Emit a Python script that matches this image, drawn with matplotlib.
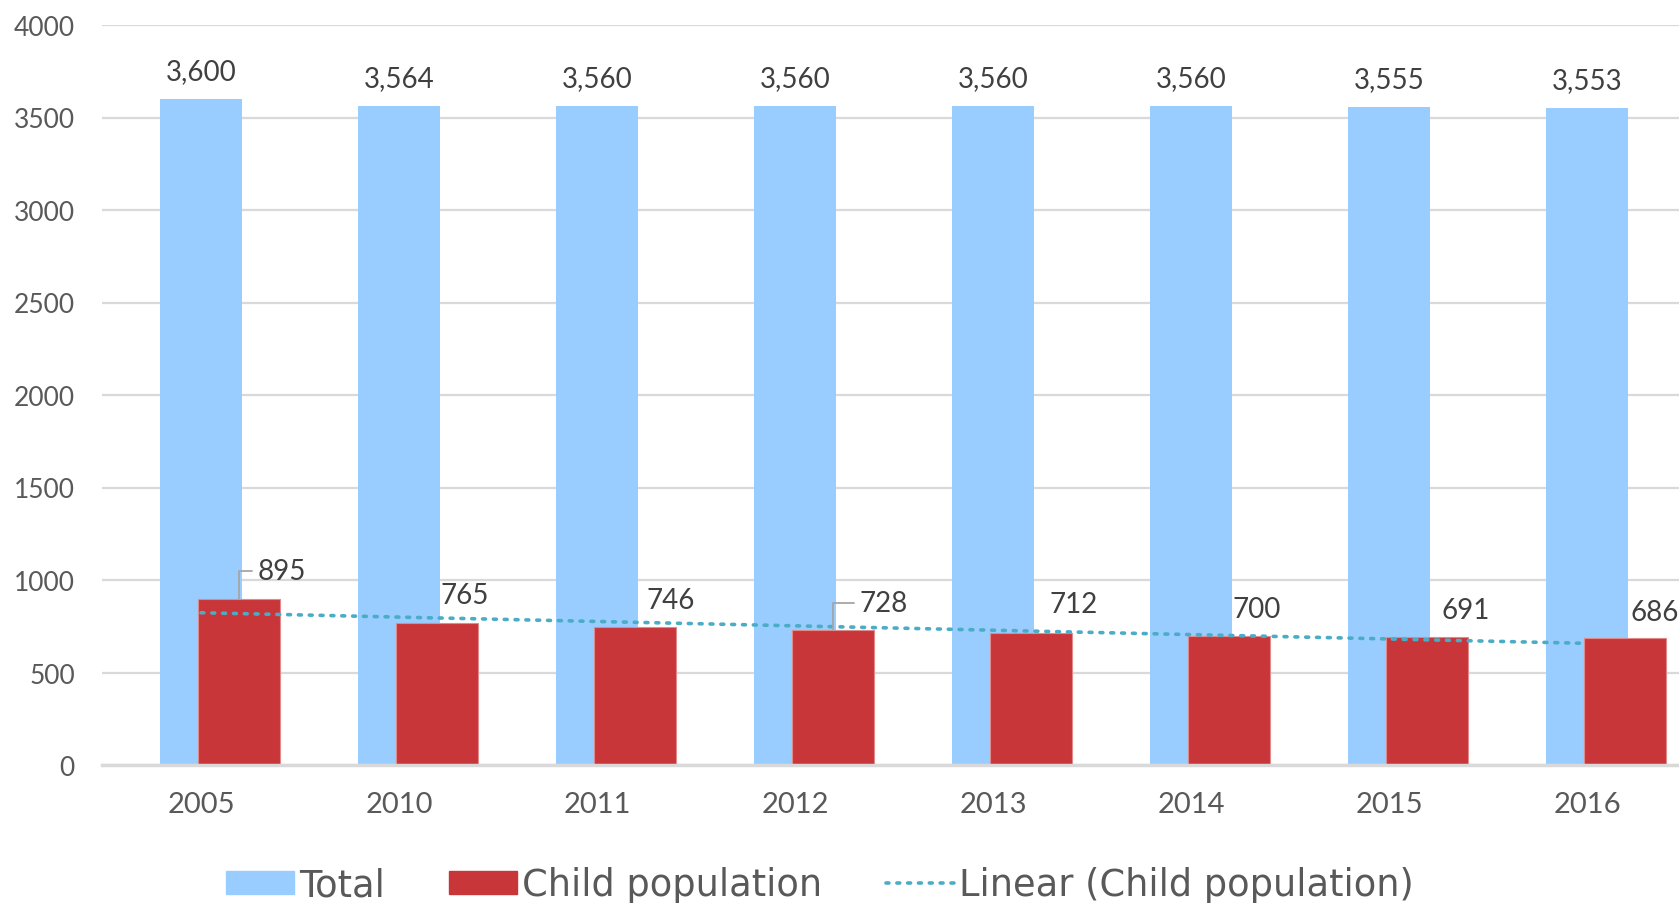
#!/usr/bin/python3
# coding: utf-8

import matplotlib
matplotlib.use('Agg')
import matplotlib.pyplot as plt
from matplotlib.lines import Line2D
from matplotlib.patches import Patch
import numpy as np

# data
years = ['2005', '2010', '2011', '2012', '2013', '2014', '2015', '2016']
total = [3600, 3564, 3560, 3560, 3560, 3560, 3555, 3553]
child = [895, 765, 746, 728, 712, 700, 691, 686]

# label offsets of the child values (pixels right, pixels up) and which get a leader line
child_offsets = [(43, 28), (28, 28), (36, 27), (51, 27), (43, 29), (28, 27), (39, 27), (30, 26)]
child_leader = [True, False, False, True, False, False, False, False]

# colours
c_total = '#99CCFF'
c_child = '#C8363A'
c_trend = '#4BACC6'
c_text = '#404040'
c_tick = '#595959'
c_grid = '#D9D9D9'

plt.rcParams['font.family'] = ['Lato', 'DejaVu Sans']

W, H, DPI = 1679, 904, 100
fig = plt.figure(figsize=(W / DPI, H / DPI), dpi=DPI)
ax = fig.add_axes([102 / W, 1 - 766 / H, 1 - 102 / W, (766 - 26) / H])

x = np.arange(len(years))
bw = 0.414
shift = 0.19
px = 1 / 198.0  # one pixel in category units

ax.bar(x, total, width=bw, color=c_total, zorder=2)
ax.bar(x + shift, child, width=bw, color=c_child, edgecolor='#E08A8C', linewidth=0.8, zorder=3)

# linear trend of child population
coef = np.polyfit(x + 1, child, 1)
trend = np.polyval(coef, x + 1)
ax.plot(x, trend, color=c_trend, linestyle=(0, (0.8, 2.2)), linewidth=2.6,
        dash_capstyle='round', zorder=4)

# value labels
for xi, v in zip(x, total):
    ax.annotate(f'{v:,}', xy=(xi, v), xytext=(0, 28 * 72 / DPI), textcoords='offset points',
                ha='center', va='center', fontsize=20, color=c_text, zorder=5)

for xi, v, (dx, dy), lead in zip(x, child, child_offsets, child_leader):
    kw = {}
    if lead:
        kw['arrowprops'] = dict(arrowstyle='-', color='#A6A6A6', lw=1.3,
                                shrinkA=2, shrinkB=0, relpos=(0, 0.5),
                                connectionstyle='angle,angleA=0,angleB=90,rad=0')
    ax.annotate(f'{v:,}', xy=(xi + shift, v), xytext=(dx * 72 / DPI, dy * 72 / DPI),
                textcoords='offset points', ha='center', va='center',
                fontsize=20, color=c_text, zorder=5, **kw)

ax.set_xlim(-0.5, -0.5 + (W - 102) * px)
ax.set_ylim(0, 4000)
ax.set_yticks(np.arange(0, 4001, 500))
ax.set_xticks(x)
ax.set_xticklabels(years)

ax.yaxis.grid(True, color=c_grid, linewidth=1.6, zorder=0)
ax.set_axisbelow(True)
for s in ['top', 'right', 'left']:
    ax.spines[s].set_visible(False)
ax.spines['bottom'].set_color(c_grid)
ax.spines['bottom'].set_linewidth(2.5)
ax.spines['bottom'].set_zorder(6)
ax.tick_params(axis='y', length=0, pad=27 * 72 / DPI, labelsize=19, labelcolor=c_tick)
ax.tick_params(axis='x', length=0, pad=26 * 72 / DPI, labelsize=21, labelcolor=c_tick)

handles = [Patch(color=c_total), Patch(color=c_child),
           Line2D([0], [0], color=c_trend, linestyle=(0, (0.8, 2.2)), linewidth=2.6,
                  dash_capstyle='round')]
fig.legend(handles, ['Total', 'Child population', 'Linear (Child population)'],
           loc='center', bbox_to_anchor=(820 / W, 1 - 886 / H), ncol=3, frameon=False,
           prop={'family': 'DejaVu Sans', 'size': 26.5}, labelcolor=c_tick,
           handlelength=1.84, handleheight=0.55, handletextpad=0.14, columnspacing=1.75)

plt.savefig('out.png', dpi=DPI)
